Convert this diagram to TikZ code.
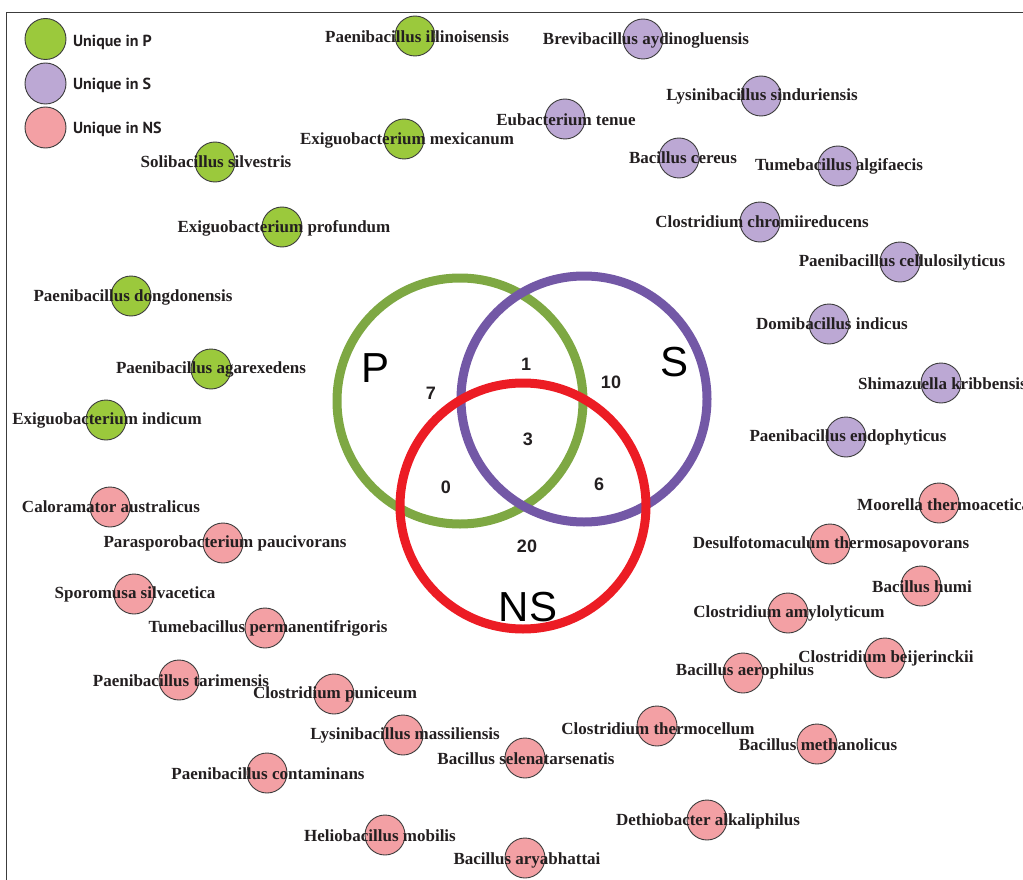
\documentclass[tikz,border=0pt]{standalone}
\usepackage{fontspec}
\setmainfont{Liberation Serif}
\setsansfont{Liberation Sans}
\newfontfamily\keyfont{PT Sans}
\usetikzlibrary{positioning}
\definecolor{ink}{HTML}{231F20}
\definecolor{rimgray}{HTML}{3C3C3C}
\definecolor{pring}{HTML}{7EA843}
\definecolor{sring}{HTML}{7358A6}
\definecolor{nsring}{HTML}{EC1C24}
\definecolor{pfill}{HTML}{9BC93C}
\definecolor{sfill}{HTML}{BCA8D4}
\definecolor{nsfill}{HTML}{F3A0A4}

\begin{document}
\begin{tikzpicture}[x=1pt,y=-1pt,
  dot/.style={circle,draw=rimgray,line width=0.9pt,minimum size=40pt,inner sep=0pt},
  pdot/.style={dot,fill=pfill},
  sdot/.style={dot,fill=sfill},
  nsdot/.style={dot,fill=nsfill},
  species/.style={font=\fontsize{17}{20}\selectfont\bfseries,text=ink,inner sep=0pt},
  keytext/.style={font=\keyfont\fontsize{16}{19}\selectfont\bfseries,text=ink,
                  anchor=west,inner sep=0pt},
  ring/.style={circle,line width=9pt,minimum size=246pt,inner sep=0pt},
  setname/.style={font=\sffamily\fontsize{42}{46}\selectfont,text=black,inner sep=0pt},
  count/.style={font=\sffamily\bfseries\fontsize{18}{20}\selectfont,text=ink,inner sep=0pt}
]
\useasboundingbox (0,0) rectangle (1023,880);

% Frame (top and left edges only).
\draw[rimgray,line width=1pt] (1023,12.5) -- (6.7,12.5) -- (6.7,880);

% -------------------------------------------------------------------------
% Legend.
\node[pdot,minimum size=41pt] (keyP) at (45.5,39) {};
\node[sdot,minimum size=41pt] (keyS) at (45.5,83.5) {};
\node[nsdot,minimum size=41pt] (keyNS) at (45.5,127.5) {};
\node[keytext] (keyPt) at (73,42) {Unique in P};
\node[keytext] (keySt) at (73,85) {Unique in S};
\node[keytext] (keyNSt) at (73,129) {Unique in NS};

% -------------------------------------------------------------------------
% Venn diagram.
\node[ring,draw=pring] (ringP) at (460,401) {};
\node[ring,draw=sring] (ringS) at (584,399) {};
\node[ring,draw=nsring] (ringNS) at (523,506) {};

\node[setname] (nameP) at (376,368) {P};
\node[setname] (nameS) at (674,362) {S};
\node[setname] (nameNS) at (528,607) {NS};

\node[count] (cP) at (431,393) {7};
\node[count] (cPS) at (526,364) {1};
\node[count] (cS) at (611,382) {10};
\node[count] (cAll) at (528,439) {3};
\node[count] (cPNS) at (446,487) {0};
\node[count] (cSNS) at (599,484) {6};
\node[count] (cNS) at (527,546) {20};

% -------------------------------------------------------------------------
% Unique in P.
\node[pdot] (pIll) at (415,36) {};
\node[pdot] (pMex) at (404,139) {};
\node[pdot] (pSol) at (215,162) {};
\node[pdot] (pPro) at (282,227) {};
\node[pdot] (pDon) at (131,296) {};
\node[pdot] (pAga) at (211,369) {};
\node[pdot] (pInd) at (106,420) {};

\node[species] at (417,37) {Paenibacillus illinoisensis};
\node[species] at (407,140) {Exiguobacterium mexicanum};
\node[species] at (216,162) {Solibacillus silvestris};
\node[species] at (284,228) {Exiguobacterium profundum};
\node[species] at (133,297) {Paenibacillus dongdonensis};
\node[species] at (211,369) {Paenibacillus agarexedens};
\node[species] at (107,420) {Exiguobacterium indicum};

% -------------------------------------------------------------------------
% Unique in S.
\node[sdot] (sBre) at (643,39) {};
\node[sdot] (sLys) at (761,96) {};
\node[sdot] (sEub) at (565,119) {};
\node[sdot] (sCer) at (679,158) {};
\node[sdot] (sTum) at (838,166) {};
\node[sdot] (sClo) at (760,222) {};
\node[sdot] (sCel) at (900,262) {};
\node[sdot] (sDom) at (829,324) {};
\node[sdot] (sShi) at (941,383) {};
\node[sdot] (sEnd) at (846,437) {};

\node[species] at (646,40) {Brevibacillus aydinogluensis};
\node[species] at (762,96) {Lysinibacillus sinduriensis};
\node[species] at (566,120) {Eubacterium tenue};
\node[species] at (683,158) {Bacillus cereus};
\node[species] at (839,166) {Tumebacillus algifaecis};
\node[species] at (762,222) {Clostridium chromiireducens};
\node[species] at (902,262) {Paenibacillus cellulosilyticus};
\node[species] at (832,324) {Domibacillus indicus};
\node[species,anchor=west] at (858,384) {Shimazuella kribbensis};
\node[species] at (848,437) {Paenibacillus endophyticus};

% -------------------------------------------------------------------------
% Unique in NS.
\node[nsdot] (nCal) at (110,507) {};
\node[nsdot] (nPar) at (223,543) {};
\node[nsdot] (nSpo) at (134,594) {};
\node[nsdot] (nTpe) at (265,628) {};
\node[nsdot] (nTar) at (179,680) {};
\node[nsdot] (nPun) at (334,694) {};
\node[nsdot] (nMas) at (403,735) {};
\node[nsdot] (nSel) at (525,758) {};
\node[nsdot] (nCon) at (267,773) {};
\node[nsdot] (nHel) at (385,835) {};
\node[nsdot] (nAry) at (525,858) {};
\node[nsdot] (nDet) at (707,820) {};
\node[nsdot] (nThe) at (657,726) {};
\node[nsdot] (nMet) at (817,744) {};
\node[nsdot] (nAer) at (743,673) {};
\node[nsdot] (nBei) at (885,658) {};
\node[nsdot] (nAmy) at (788,613) {};
\node[nsdot] (nHum) at (921,586) {};
\node[nsdot] (nDes) at (830,544) {};
\node[nsdot] (nMoo) at (939,503) {};

\node[species] at (111,507) {Caloramator australicus};
\node[species] at (225,543) {Parasporobacterium paucivorans};
\node[species] at (135,594) {Sporomusa silvacetica};
\node[species] at (268,628) {Tumebacillus permanentifrigoris};
\node[species] at (181,681) {Paenibacillus tarimensis};
\node[species] at (335,694) {Clostridium puniceum};
\node[species] at (405,735) {Lysinibacillus massiliensis};
\node[species] at (526,759) {Bacillus selenatarsenatis};
\node[species] at (268,774) {Paenibacillus contaminans};
\node[species] at (380,836) {Heliobacillus mobilis};
\node[species] at (527,860) {Bacillus aryabhattai};
\node[species] at (708,821) {Dethiobacter alkaliphilus};
\node[species] at (658,729) {Clostridium thermocellum};
\node[species] at (818,745) {Bacillus methanolicus};
\node[species] at (745,671) {Bacillus aerophilus};
\node[species] at (886,658) {Clostridium beijerinckii};
\node[species] at (789,613) {Clostridium amylolyticum};
\node[species] at (922,587) {Bacillus humi};
\node[species] at (831,544) {Desulfotomaculum thermosapovorans};
\node[species,anchor=west] at (857,505) {Moorella thermoacetica};

\end{tikzpicture}
\end{document}
